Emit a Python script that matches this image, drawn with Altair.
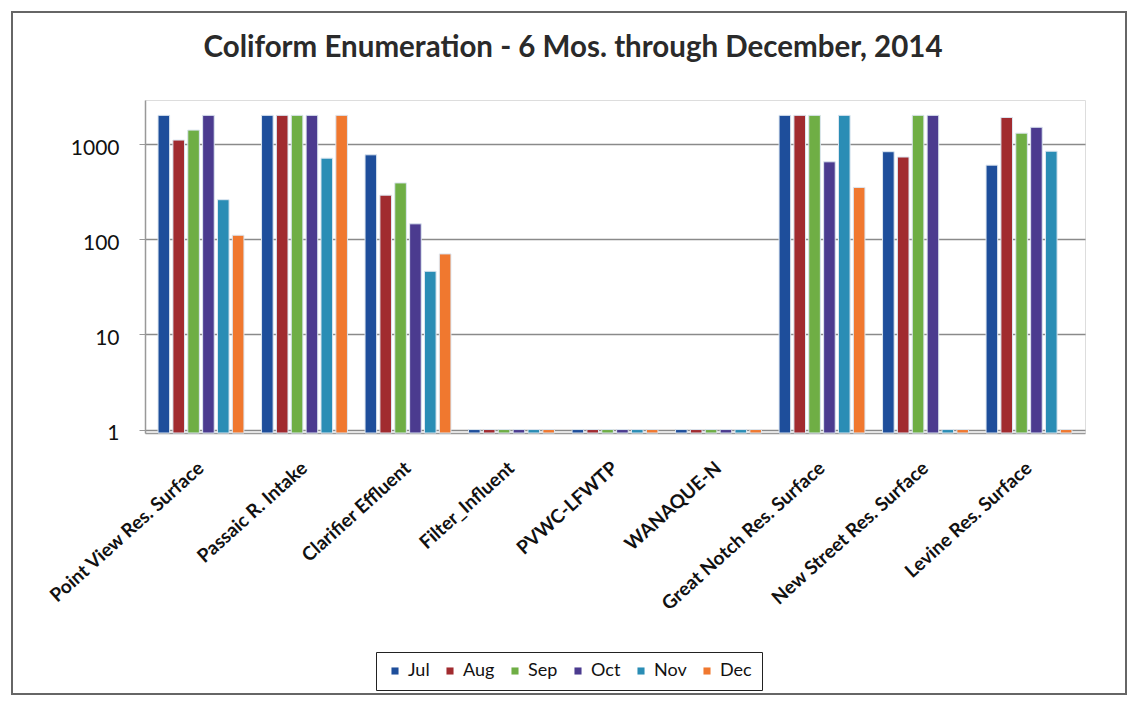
import altair as alt
import pandas as pd

title_text = "Coliform Enumeration - 6 Mos. through December, 2014"
sites = ["Point View Res. Surface", "Passaic R. Intake", "Clarifier Effluent",
         "Filter_Influent", "PVWC-LFWTP", "WANAQUE-N",
         "Great Notch Res. Surface", "New Street Res. Surface", "Levine Res. Surface"]
months = ["Jul", "Aug", "Sep", "Oct", "Nov", "Dec"]
colors = ["#1E4E9B", "#A12B2F", "#6FAE45", "#4B3B8F", "#2A8DB5", "#F0782F"]

jul = [2000, 2000, 770, 1, 1, 1, 2000, 830, 600]
aug = [1100, 2000, 290, 1, 1, 1, 2000, 730, 1900]
sep = [1400, 2000, 390, 1, 1, 1, 2000, 2000, 1300]
oct_ = [2000, 2000, 145, 1, 1, 1, 650, 2000, 1500]
nov = [260, 710, 46, 1, 1, 1, 2000, 1, 840]
dec = [110, 2000, 70, 1, 1, 1, 350, 1, 1]

series = [jul, aug, sep, oct_, nov, dec]
rows = []
for m, vals in zip(months, series):
    for s, v in zip(sites, vals):
        rows.append({"Site": s, "Month": m, "Count": v})
df = pd.DataFrame(rows)

W, H = 940, 333
PL, PT = 137, 92
PR = 1122 - PL - W
PB = 690 - PT - H
YMIN = 0.92

FONT = "Lato"

bars = alt.Chart(df).mark_bar(stroke="#dce6f0", strokeWidth=1).encode(
    x=alt.X("Site:N", sort=sites,
            scale=alt.Scale(paddingInner=0.17, paddingOuter=0.126),
            axis=alt.Axis(title=None, labelAngle=-42, labelAlign="right",
                          labelBaseline="middle", labelFont=FONT,
                          labelFontSize=19, labelFontWeight="bold",
                          labelColor="#111", labelPadding=32, ticks=False,
                          domain=True, domainColor="#999", domainWidth=1.5,
                          labelLimit=300)),
    xOffset=alt.XOffset("Month:N", sort=months,
                        scale=alt.Scale(paddingInner=0.22)),
    y=alt.Y("Count:Q",
            scale=alt.Scale(type="log", domain=[YMIN, 2900]),
            axis=alt.Axis(title=None, values=[1, 10, 100, 1000], format="d",
                          labelFont=FONT, labelFontSize=21, labelColor="#111",
                          labelPadding=20, labelOffset=4, grid=True,
                          gridColor="#8a8a8a", gridWidth=1.5,
                          domainColor="#999", domainWidth=1.5,
                          tickColor="#999", tickSize=6)),
    y2=alt.datum(YMIN),
    color=alt.Color("Month:N", sort=months,
                    scale=alt.Scale(domain=months, range=colors),
                    legend=alt.Legend(title=None, orient="none",
                                      direction="horizontal",
                                      legendX=231, legendY=552,
                                      symbolType="square", symbolSize=50,
                                      labelFont=FONT, labelFontSize=18,
                                      labelColor="#111", columnPadding=11,
                                      strokeColor="#222", padding=10,
                                      symbolStrokeWidth=0)),
)

frame = alt.Chart(pd.DataFrame({"a": [0]})).mark_rect(
    fill=None, stroke="#666", strokeWidth=2, clip=False
).encode(x=alt.value(-PL + 4), x2=alt.value(W + PR - 4),
         y=alt.value(-PT + 4), y2=alt.value(H + PB - 4))

title = alt.Chart(pd.DataFrame({"t": [title_text]})).mark_text(
    font=FONT, fontSize=29.5, fontWeight="bold", color="#2a2a2a",
    align="center", baseline="middle", clip=False
).encode(text="t:N", x=alt.value(1138 / 2 - 8 - PL + 4), y=alt.value(-52))

chart = alt.layer(frame, bars, title).properties(
    width=W, height=H,
    autosize=alt.AutoSizeParams(type="none"),
    padding={"left": PL, "top": PT, "right": PR, "bottom": PB},
).configure_view(stroke=None).configure(background="white")

chart.save("out.html", embed_options={"renderer": "svg", "actions": False})
